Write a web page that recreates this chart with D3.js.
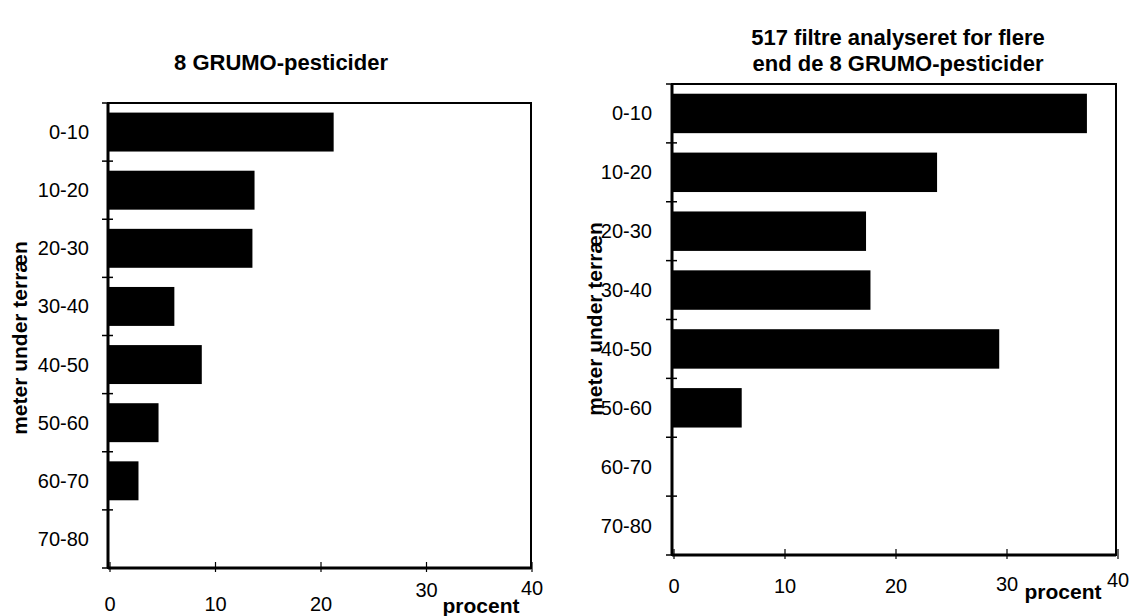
<!DOCTYPE html>
<html>
<head>
<meta charset="utf-8">
<script src="https://cdn.jsdelivr.net/npm/d3@7"></script>
<style>
    body { margin: 0; background: #fff; }
    svg { display: block; font-family: "Liberation Sans", Arial, sans-serif; }
    .tick-label { font-size: 20px; fill: #000; }
    .title { font-size: 22px; font-weight: bold; fill: #000; }
    .axis-title { font-size: 21px; font-weight: bold; fill: #000; }
</style>
</head>
<body>
<div id="container"><svg></svg></div>
<script>
let width = 1132;
let height = 616;

// data
let depthLabels = ['0-10', '10-20', '20-30', '30-40', '40-50', '50-60', '60-70', '70-80'];
let grumoPct = [21.2, 13.7, 13.5, 6.1, 8.7, 4.6, 2.7, 0];
let filterPct = [37.2, 23.7, 17.3, 17.7, 29.3, 6.1, 0, 0];
let xTicks = [0, 10, 20, 30, 40];
let leftTitle = ['8 GRUMO-pesticider'];
let rightTitle = ['517 filtre analyseret for flere', 'end de 8 GRUMO-pesticider'];
let yTitle = 'meter under terræn';
let xTitle = 'procent';

let svg = d3.select('#container').select('svg')
    .attr('width', width)
    .attr('height', height);

function draw_panel(p, values, title) {
    let x = d3.scaleLinear().domain([0, 40]).range([p.x0, p.x1]);
    let y = d3.scaleBand().domain(depthLabels)
        .range([p.top, p.bottom])
        .paddingInner(0.33)
        .paddingOuter(0.165);
    let g = svg.append('g');

    // bars (empty classes get no bar)
    g.selectAll('rect.bar')
        .data(values)
        .enter()
        .append('rect')
        .attr('class', 'bar')
        .attr('x', p.axisX)
        .attr('y', (d, i) => y(depthLabels[i]))
        .attr('width', d => d > 0 ? x(d) - p.axisX : 0)
        .attr('height', y.bandwidth())
        .attr('fill', '#000');

    // frame
    g.append('rect')
        .attr('x', p.axisX)
        .attr('y', p.top)
        .attr('width', p.right - p.axisX)
        .attr('height', p.bottom - p.top)
        .attr('fill', 'none')
        .attr('stroke', '#000')
        .attr('stroke-width', 2);
    g.append('line')
        .attr('x1', p.axisX).attr('x2', p.axisX)
        .attr('y1', p.top).attr('y2', p.bottom)
        .attr('stroke', '#000').attr('stroke-width', 3);
    g.append('line')
        .attr('x1', p.axisX).attr('x2', p.right)
        .attr('y1', p.bottom).attr('y2', p.bottom)
        .attr('stroke', '#000').attr('stroke-width', 3);

    // y ticks at band edges
    let step = y.step();
    let edges = d3.range(depthLabels.length + 1).map(i => p.top + i * step);
    g.selectAll('line.ytick')
        .data(edges)
        .enter()
        .append('line')
        .attr('class', 'ytick')
        .attr('x1', p.axisX - 6).attr('x2', p.axisX + 5)
        .attr('y1', d => d).attr('y2', d => d)
        .attr('stroke', '#000').attr('stroke-width', 1.5);

    // y labels
    g.selectAll('text.ylab')
        .data(depthLabels)
        .enter()
        .append('text')
        .attr('class', 'tick-label')
        .attr('x', p.labelX)
        .attr('y', d => y(d) + y.bandwidth() / 2)
        .attr('dy', '0.35em')
        .attr('text-anchor', 'end')
        .text(d => d);

    // x ticks
    g.selectAll('line.xtick')
        .data(xTicks)
        .enter()
        .append('line')
        .attr('x1', d => x(d)).attr('x2', d => x(d))
        .attr('y1', p.bottom - 6).attr('y2', p.bottom + 4)
        .attr('stroke', '#000').attr('stroke-width', 1.2);
    g.selectAll('text.xlab')
        .data(xTicks)
        .enter()
        .append('text')
        .attr('class', 'tick-label')
        .attr('x', d => x(d))
        .attr('y', (d, i) => p.tickY - (p.raise[i] || 0))
        .attr('text-anchor', 'middle')
        .text(d => d);

    // titles
    title.forEach((t, i) => {
        g.append('text')
            .attr('class', 'title')
            .attr('x', p.titleX)
            .attr('y', p.titleY + i * 26)
            .attr('text-anchor', 'middle')
            .text(t);
    });
    g.append('text')
        .attr('class', 'axis-title')
        .attr('transform', 'translate(' + p.yTitleX + ',' + p.yTitleY + ') rotate(-90)')
        .attr('text-anchor', 'middle')
        .text(yTitle);
    g.append('text')
        .attr('class', 'axis-title')
        .attr('x', p.xTitleX)
        .attr('y', p.xTitleY)
        .attr('text-anchor', 'middle')
        .text(xTitle);
}

draw_panel({
    axisX: 108, x0: 110, x1: 532, right: 531, top: 103, bottom: 568,
    labelX: 89, tickY: 611, raise: [0, 0, 0, 14, 16],
    titleX: 281, titleY: 70, yTitleX: 27, yTitleY: 338,
    xTitleX: 481, xTitleY: 613
}, grumoPct, leftTitle);

draw_panel({
    axisX: 672, x0: 674, x1: 1118, right: 1116, top: 84, bottom: 555,
    labelX: 652, tickY: 593, raise: [0, 0, 0, 2, 6],
    titleX: 898, titleY: 45, yTitleX: 602, yTitleY: 319,
    xTitleX: 1063, xTitleY: 599
}, filterPct, rightTitle);
</script>
</body>
</html>
